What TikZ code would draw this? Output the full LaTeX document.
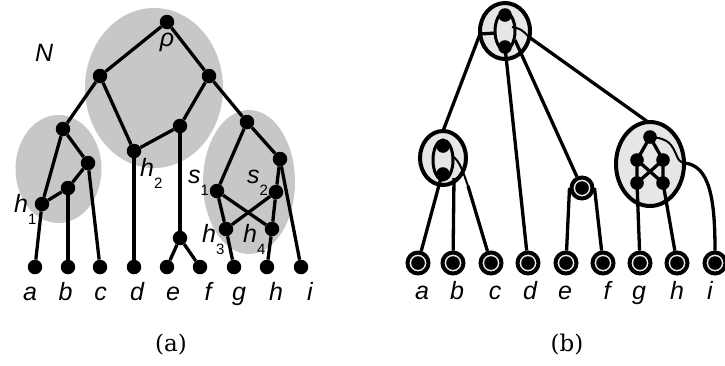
\documentclass[tikz,border=0pt]{standalone}
\usepackage{fontspec}
\newfontfamily\labfont{Liberation Sans}
\newfontfamily\capfont{DejaVu Serif}
\definecolor{cgray}{RGB}{199,199,199}
\definecolor{clight}{RGB}{230,230,230}
\definecolor{cring}{RGB}{238,238,238}
\newcommand{\hsub}[2]{{\itshape #1}\raisebox{-12pt}{\upshape\fontsize{15}{15}\selectfont #2}}
\begin{document}
\begin{tikzpicture}[x=1pt,y=-1pt,
  edge/.style={line width=3.3pt},
  thinedge/.style={line width=2pt},
  dot/.style={circle,fill=black,inner sep=0pt,minimum size=14.5pt},
  lab/.style={font=\labfont\itshape\fontsize{25}{25}\selectfont,inner sep=0pt,anchor=base west},
  leaflab/.style={font=\labfont\itshape\fontsize{25}{25}\selectfont,inner sep=0pt,anchor=base},
  captext/.style={font=\capfont\fontsize{23}{23}\selectfont,inner sep=0pt},
  leafb/.style={circle,draw=black,line width=4pt,fill=cring,minimum size=21pt,inner sep=0pt,
    path picture={\fill[black] (path picture bounding box.center) circle (6.8pt);}},
  ring/.style={draw=black,line width=4pt},
  lens/.style={draw=black,line width=3pt},
  idot/.style={fill=black}]
\useasboundingbox (0,0) rectangle (725,365);

% ---------------- (a) ----------------
\fill[cgray] (154,88) ellipse [x radius=69, y radius=80];
\fill[cgray] (58.5,169) ellipse [x radius=43, y radius=54];
\fill[cgray] (249,182) ellipse [x radius=46, y radius=72];

\node[dot] (r)  at (167,22) {};
\node[dot] (L)  at (100,76) {};
\node[dot] (R)  at (209,76) {};
\node[dot] (LL) at (63,129) {};
\node[dot] (H2) at (134,151) {};
\node[dot] (M)  at (180,126) {};
\node[dot] (RC) at (247,122) {};
\node[dot] (LR) at (88,163) {};
\node[dot] (LB) at (68,188) {};
\node[dot] (H1) at (42,204) {};
\node[dot] (RR) at (280,159) {};
\node[dot] (S1) at (217,191) {};
\node[dot] (S2) at (276,192) {};
\node[dot] (H3) at (226,229) {};
\node[dot] (H4) at (272,229) {};
\node[dot] (E)  at (180,238) {};
\foreach \n/\x in {a/35,b/68,c/100,d/134,e/167,f/200,g/234,h/267,i/301}
  \node[dot] (a\n) at (\x,267) {};

\draw[edge] (r) -- (L);
\draw[edge] (r) -- (R);
\draw[edge] (L) -- (LL);
\draw[edge] (L) -- (H2);
\draw[edge] (R) -- (M);
\draw[edge] (R) -- (RC);
\draw[edge] (M) -- (H2);
\draw[edge] (H2) -- (ad);
\draw[edge] (M) -- (E);
\draw[edge] (E) -- (ae);
\draw[edge] (E) -- (af);
\draw[edge] (LL) -- (H1);
\draw[edge] (LL) -- (LR);
\draw[edge] (LR) -- (LB);
\draw[edge] (LB) -- (H1);
\draw[edge] (LB) -- (ab);
\draw[edge] (LR) -- (ac);
\draw[edge] (H1) -- (aa);
\draw[edge] (RC) -- (S1);
\draw[edge] (RC) -- (RR);
\draw[edge] (RR) -- (S2);
\draw[edge] (RR) -- (ai);
\draw[edge] (S1) -- (H3);
\draw[edge] (S1) -- (H4);
\draw[edge] (S2) -- (H3);
\draw[edge] (S2) -- (H4);
\draw[edge] (H3) -- (ag);
\draw[edge] (H4) -- (ah);

\node[lab] (lN) at (35,61) {N};
\node[font=\labfont\itshape\fontsize{25}{25}\selectfont,inner sep=0pt] (lrho) at (167,42) {ρ};
\node[lab] (lh1) at (14,212) {\hsub{h}{1}};
\node[lab] (lh2) at (140,176) {\hsub{h}{2}};
\node[lab] (ls1) at (188,183) {\hsub{s}{1}};
\node[lab] (ls2) at (247,183) {\hsub{s}{2}};
\node[lab] (lh3) at (202,242) {\hsub{h}{3}};
\node[lab] (lh4) at (243,242) {\hsub{h}{4}};
\foreach \n/\x in {a/30,b/65.5,c/100.5,d/137,e/173,f/208,g/239,h/276,i/310}
  \node[leaflab] (la\n) at (\x,300) {\n};
\node[captext] (capa) at (171,345) {(a)};

% ---------------- (b) ----------------
\foreach \n/\x in {a/418,b/453,c/491,d/528,e/566,f/603,g/640,h/677,i/715}
  \node[leafb] (b\n) at (\x,263) {};
\node[leafb] (enode) at (582,188) {};

% fills of the big nodes
\fill[clight] (505,31) ellipse [x radius=25, y radius=28];
\fill[clight] (443,158) ellipse [x radius=23, y radius=27];
\fill[clight] (650,164) ellipse [x radius=34, y radius=42];

\coordinate (tl) at (480,34);
\coordinate (lt) at (443,131);
\coordinate (rt) at (648,122);

% edges
\draw[edge] (496,33) -- (tl) -- (lt);
\draw[edge] (505,47) -- (bd);
\draw[edge] (515,40) -- (enode);
\draw[thinedge] (512,27) .. controls (521,29) .. (529,37);
\draw[edge] (529,37) -- (rt);
\draw[edge] (442,174) -- (ba);
\draw[edge] (454,178) -- (bb);
\draw[thinedge] (452,156) .. controls (460,160) and (464,175) .. (468,186);
\draw[edge] (468,186) -- (bc);
\draw[edge] (enode.west) -- (be);
\draw[edge] (enode.east) -- (bf);
\draw[edge] (637,183) -- (bg);
\draw[edge] (663,183) -- (bh);
\draw[thinedge] (650,137) .. controls (670,138) and (672,146) .. (676,154) .. controls (679,161) .. (684,163);
\draw[edge] (684,163) .. controls (710,165) and (715,200) .. (bi);

% top node inside
\draw[lens] (505,31) ellipse [x radius=10, y radius=19];
\fill[idot] (505,15) circle (6.8);
\fill[idot] (505,47) circle (6.8);
% left node inside
\draw[lens] (443,160) ellipse [x radius=10, y radius=20];
\fill[idot] (443,146) circle (6.8);
\fill[idot] (443,174) circle (6.8);
% right node inside
\draw[edge] (650,137) -- (637,160) -- (637,183);
\draw[edge] (650,137) -- (663,160) -- (663,183);
\draw[edge] (637,160) -- (663,183);
\draw[edge] (663,160) -- (637,183);
\foreach \p in {(650,137),(637,160),(663,160),(637,183),(663,183)}
  \fill[idot] \p circle (6.8);

% outlines of the big nodes
\draw[ring] (505,31) ellipse [x radius=25, y radius=28];
\draw[ring] (443,158) ellipse [x radius=23, y radius=27];
\draw[ring] (650,164) ellipse [x radius=34, y radius=42];

\foreach \n/\x in {a/422,b/457,c/495,d/530,e/565,f/607,g/639,h/677,i/710}
  \node[leaflab] (lb\n) at (\x,299) {\n};
\node[captext] (capb) at (567,345) {(b)};
\end{tikzpicture}
\end{document}
